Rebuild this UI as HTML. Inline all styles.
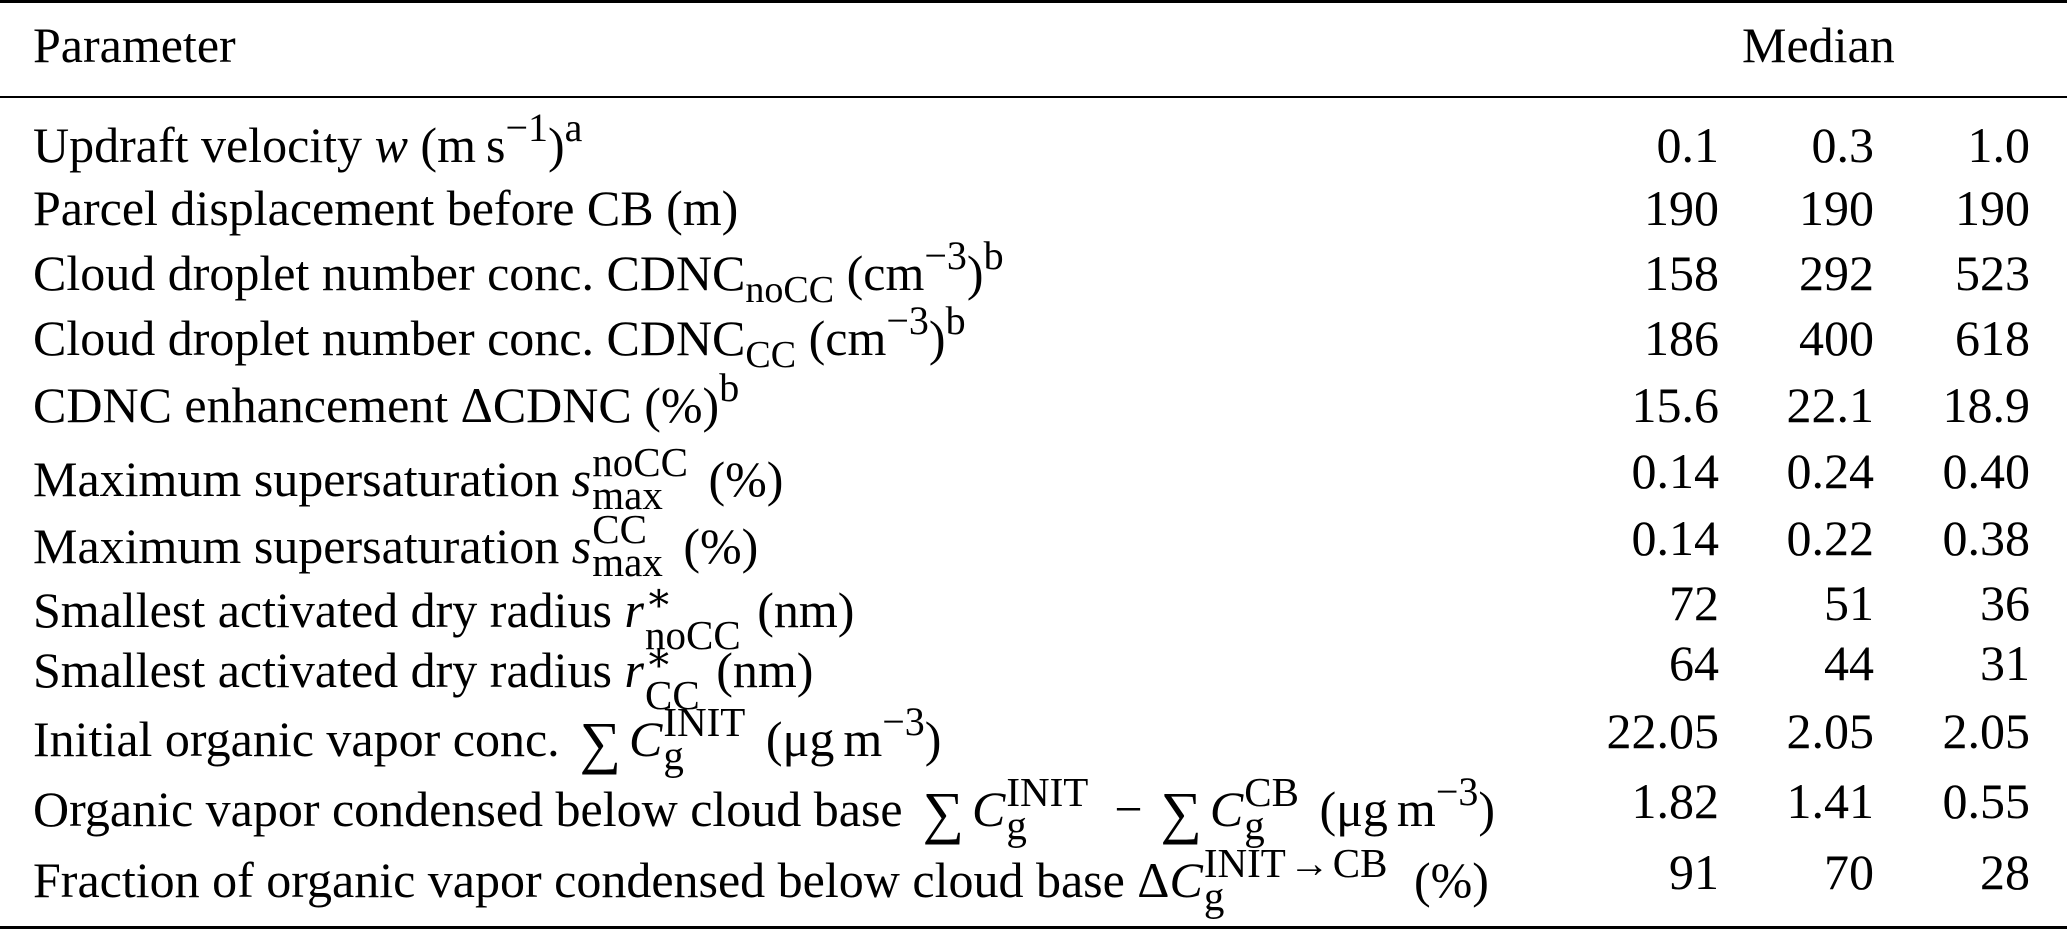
<!DOCTYPE html>
<html><head><meta charset="utf-8">
<style>
html,body{margin:0;padding:0;background:#fff;}
body{width:2067px;height:931px;position:relative;overflow:hidden;font-family:"Liberation Serif","DejaVu Serif",serif;color:#000;}
.rule{position:absolute;left:0;width:2067px;background:#000;}
.t{position:absolute;font-size:50px;line-height:50px;white-space:nowrap;}
.l{left:33px;}
.n{text-align:right;width:200px;}
.c1{left:1519px;} .c2{left:1674px;} .c3{left:1830px;}
i{font-style:italic;}
.sub{font-size:38px;vertical-align:-12px;line-height:0;}
.sup{font-size:40px;vertical-align:21px;line-height:0;}
.ss{display:inline-flex;flex-direction:column;font-size:41px;line-height:33px;vertical-align:20px;margin-left:1px;margin-right:8px;white-space:nowrap;}
.ss > span{display:block;height:33px;}
.ss.r{line-height:38px;vertical-align:16px;margin-right:4px;}
.ss.r > span{height:38px;}
.sum{display:inline-block;font-size:58px;line-height:0;vertical-align:-6px;margin:0 8px 0 20px;}
.m{margin:0 18px;}
.th{display:inline-block;width:9px;}
.ar{margin:0 3px;}
</style></head><body>
<div class="rule" style="top:0;height:3px"></div>
<div class="rule" style="top:96px;height:2px"></div>
<div class="rule" style="top:926px;height:3px"></div>

<div class="t l" style="top:20px">Parameter</div>
<div class="t" style="top:20px;left:1742px">Median</div>

<div class="t l" style="top:120px">Updraft velocity <i>w</i> (m&#8201;s<span class="sup">−1</span>)<span class="sup">a</span></div>
<div class="t l" style="top:183px">Parcel displacement before CB (m)</div>
<div class="t l" style="top:248px">Cloud droplet number conc. CDNC<span class="sub">noCC</span> (cm<span class="sup">−3</span>)<span class="sup">b</span></div>
<div class="t l" style="top:313px">Cloud droplet number conc. CDNC<span class="sub">CC</span> (cm<span class="sup">−3</span>)<span class="sup">b</span></div>
<div class="t l" style="top:380px">CDNC enhancement ΔCDNC (%)<span class="sup">b</span></div>
<div class="t l" style="top:446px">Maximum supersaturation <i>s</i><span class="ss"><span>noCC</span><span>max</span></span> (%)</div>
<div class="t l" style="top:513px">Maximum supersaturation <i>s</i><span class="ss"><span>CC</span><span>max</span></span> (%)</div>
<div class="t l" style="top:578px">Smallest activated dry radius <i>r</i><span class="ss r"><span>∗</span><span>noCC</span></span> (nm)</div>
<div class="t l" style="top:638px">Smallest activated dry radius <i>r</i><span class="ss r"><span>∗</span><span>CC</span></span> (nm)</div>
<div class="t l" style="top:706px">Initial organic vapor conc.<span class="sum">∑</span><i>C</i><span class="ss"><span>INIT</span><span>g</span></span> (μg<span class="th"></span>m<span class="sup">−3</span>)</div>
<div class="t l" style="top:776px">Organic vapor condensed below cloud base<span class="sum">∑</span><i>C</i><span class="ss"><span>INIT</span><span>g</span></span><span class="m">−</span><span class="sum" style="margin-left:0">∑</span><i>C</i><span class="ss"><span>CB</span><span>g</span></span> (μg<span class="th"></span>m<span class="sup">−3</span>)</div>
<div class="t l" style="top:847px">Fraction of organic vapor condensed below cloud base Δ<i>C</i><span class="ss" style="margin-right:14px"><span>INIT<span class="ar">→</span>CB</span><span>g</span></span> (%)</div>

<div class="t n c1" style="top:120px">0.1</div><div class="t n c2" style="top:120px">0.3</div><div class="t n c3" style="top:120px">1.0</div>
<div class="t n c1" style="top:183px">190</div><div class="t n c2" style="top:183px">190</div><div class="t n c3" style="top:183px">190</div>
<div class="t n c1" style="top:248px">158</div><div class="t n c2" style="top:248px">292</div><div class="t n c3" style="top:248px">523</div>
<div class="t n c1" style="top:313px">186</div><div class="t n c2" style="top:313px">400</div><div class="t n c3" style="top:313px">618</div>
<div class="t n c1" style="top:380px">15.6</div><div class="t n c2" style="top:380px">22.1</div><div class="t n c3" style="top:380px">18.9</div>
<div class="t n c1" style="top:446px">0.14</div><div class="t n c2" style="top:446px">0.24</div><div class="t n c3" style="top:446px">0.40</div>
<div class="t n c1" style="top:513px">0.14</div><div class="t n c2" style="top:513px">0.22</div><div class="t n c3" style="top:513px">0.38</div>
<div class="t n c1" style="top:578px">72</div><div class="t n c2" style="top:578px">51</div><div class="t n c3" style="top:578px">36</div>
<div class="t n c1" style="top:638px">64</div><div class="t n c2" style="top:638px">44</div><div class="t n c3" style="top:638px">31</div>
<div class="t n c1" style="top:706px">22.05</div><div class="t n c2" style="top:706px">2.05</div><div class="t n c3" style="top:706px">2.05</div>
<div class="t n c1" style="top:776px">1.82</div><div class="t n c2" style="top:776px">1.41</div><div class="t n c3" style="top:776px">0.55</div>
<div class="t n c1" style="top:847px">91</div><div class="t n c2" style="top:847px">70</div><div class="t n c3" style="top:847px">28</div>
</body></html>
